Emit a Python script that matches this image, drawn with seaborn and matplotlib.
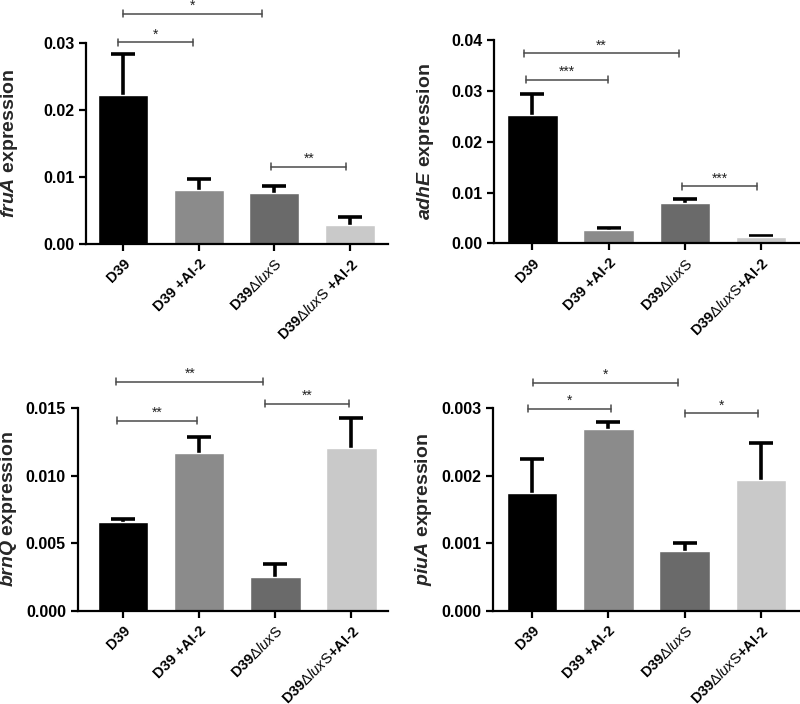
import matplotlib
matplotlib.use("Agg")
import matplotlib.pyplot as plt
import seaborn as sns
import pandas as pd
import numpy as np

sns.set_theme(style="ticks")
plt.rcParams['font.family'] = ['Liberation Sans', 'DejaVu Sans']
plt.rcParams['mathtext.fontset'] = 'custom'
plt.rcParams['mathtext.rm'] = 'Liberation Sans'
plt.rcParams['mathtext.it'] = 'Liberation Sans:italic:bold'
plt.rcParams['mathtext.bf'] = 'Liberation Sans:bold'
plt.rcParams['mathtext.sf'] = 'Liberation Sans:italic'

# ---- data ----
categories = ["D39", "D39 +AI-2", "D39ΔluxS", "D39ΔluxS +AI-2"]
tick_labels_a = ["D39", "D39 +AI-2", r"D39$\Delta\mathsf{lux}\mathrm{S}$", r"D39$\Delta\mathsf{lux}\mathrm{S}$ +AI-2"]
tick_labels_b = ["D39", "D39 +AI-2", r"D39$\Delta\mathsf{lux}\mathrm{S}$", r"D39$\Delta\mathsf{lux}\mathrm{S}$+AI-2"]
bar_colors = ["#000000", "#8b8b8b", "#6a6a6a", "#c9c9c9"]

fruA_mean = [0.0222, 0.0081, 0.0076, 0.0029]
fruA_err = [0.0061, 0.0016, 0.0010, 0.0011]
adhE_mean = [0.0252, 0.00256, 0.0079, 0.0012]
adhE_err = [0.0042, 0.00044, 0.0008, 0.00024]
brnQ_mean = [0.00655, 0.01169, 0.0025, 0.01203]
brnQ_err = [0.00022, 0.00116, 0.00094, 0.00223]
piuA_mean = [0.00175, 0.00269, 0.00089, 0.00194]
piuA_err = [0.00050, 0.00010, 0.00012, 0.00055]

genes = ["fruA", "adhE", "brnQ", "piuA"]
yticks_list = [
    [0.00, 0.01, 0.02, 0.03],
    [0.00, 0.01, 0.02, 0.03, 0.04],
    [0.000, 0.005, 0.010, 0.015],
    [0.000, 0.001, 0.002, 0.003],
]
ytick_text = [
    ["0.00", "0.01", "0.02", "0.03"],
    ["0.00", "0.01", "0.02", "0.03", "0.04"],
    ["0.000", "0.005", "0.010", "0.015"],
    ["0.000", "0.001", "0.002", "0.003"],
]
# significance brackets: (x1, x2, y, label)
sig_fruA = [(0.0, 1.84, 0.0344, "*"), (-0.07, 0.92, 0.0301, "*"), (1.96, 2.95, 0.0115, "**")]
sig_adhE = [(-0.11, 1.92, 0.0374, "**"), (-0.08, 0.99, 0.0322, "***"), (1.97, 2.95, 0.0112, "***")]
sig_brnQ = [(-0.09, 1.84, 0.01697, "**"), (-0.08, 0.97, 0.01406, "**"), (1.86, 2.97, 0.01534, "**")]
sig_piuA = [(0.01, 1.91, 0.00338, "*"), (-0.05, 1.03, 0.002994, "*"), (2.01, 2.96, 0.002926, "*")]

means = [fruA_mean, adhE_mean, brnQ_mean, piuA_mean]
errs = [fruA_err, adhE_err, brnQ_err, piuA_err]
sigs = [sig_fruA, sig_adhE, sig_brnQ, sig_piuA]
labels_sets = [tick_labels_a, tick_labels_b, tick_labels_b, tick_labels_b]

W, H = 800, 704
fig = plt.figure(figsize=(8, 7.04), dpi=100)
# axes in pixel coords: left, right, top, bottom
boxes = [(86, 388, 43, 244), (494, 799, 40.3, 243.3), (77.7, 388, 408.3, 610.7), (493.3, 799, 408.3, 610.7)]
xlims = [(-0.49, 3.5), (-0.505, 3.5), (-0.6, 3.48), (-0.51, 3.5)]
ylabel_px = [20, 436, 19, 434]

for i in range(4):
    l, r, t, b = boxes[i]
    ax = fig.add_axes([l / W, 1 - b / H, (r - l) / W, (b - t) / H])
    df = pd.DataFrame({"cat": categories, "val": means[i]})
    sns.barplot(data=df, x="cat", y="val", hue="cat", palette=bar_colors,
                width=0.66, errorbar=None, legend=False, ax=ax, saturation=1)
    xs = np.arange(4)
    tops = np.array(means[i]) + np.array(errs[i])
    ax.vlines(xs, means[i], tops, colors="black", lw=2.6, zorder=1)
    ax.plot(xs, tops, ls="none", marker="_", markersize=17, mew=2.6, color="black", zorder=1)
    for p in ax.patches:
        p.set_zorder(2)
    ymax = yticks_list[i][-1]
    ax.set_ylim(0, ymax)
    ax.set_xlim(*xlims[i])
    ax.set_yticks(yticks_list[i])
    ax.set_yticklabels(ytick_text[i], fontsize=11.5, fontweight="bold")
    ax.set_xticks(xs)
    ax.set_xticklabels(labels_sets[i], rotation=45, ha="right", rotation_mode="anchor",
                       fontsize=10.5, fontweight="bold")
    ax.set_xlabel("")
    ax.set_ylabel(r"$\mathit{" + genes[i] + "}$ expression", fontsize=14,
                  fontweight="bold")
    ax.yaxis.set_label_coords((ylabel_px[i] - l) / (r - l), 0.5)
    sns.despine(ax=ax)
    for s in ["left", "bottom"]:
        ax.spines[s].set_linewidth(1.6)
        ax.spines[s].set_color("black")
    ax.tick_params(axis="both", direction="out", length=5, width=1.6, colors="black")
    ax.tick_params(axis="x", pad=4)
    # brackets
    px = ymax / (b - t)
    for (x1, x2, y, lab) in sigs[i]:
        ax.plot([x1, x2], [y, y], color="#4a4a4a", lw=1.1, clip_on=False, zorder=5)
        for xx in (x1, x2):
            ax.plot([xx, xx], [y - 3.5 * px, y + 3.5 * px], color="#4a4a4a", lw=1.1,
                    clip_on=False, zorder=5)
        ax.text((x1 + x2) / 2, y + 1 * px, lab, ha="center", va="bottom",
                fontsize=10, color="#222222")

fig.savefig("out.png", dpi=100)
